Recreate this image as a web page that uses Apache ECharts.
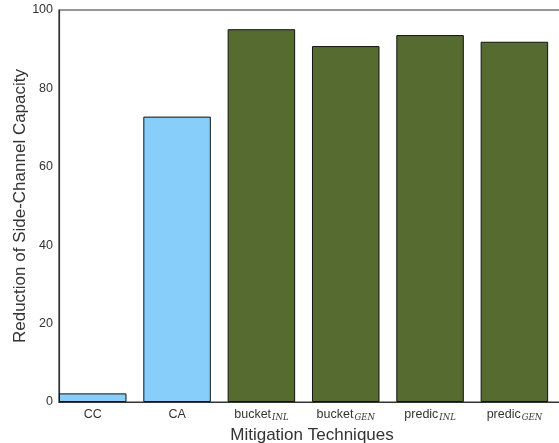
<!DOCTYPE html>
<html>
<head>
<meta charset="utf-8">
<script src="https://cdn.jsdelivr.net/npm/echarts@6/dist/echarts.min.js"></script>
<style>
    html, body { margin: 0; padding: 0; background: #fff; }
    #chart { width: 559px; height: 443px; }
</style>
</head>
<body>
<div id="chart"></div>
<script>
/*缓解技术柱状图*/

var categories = ['CC', 'CA', 'bucket', 'bucket', 'predic', 'predic'];
var subscripts = ['', '', 'INL', 'GEN', 'INL', 'GEN'];
var values = [2.2, 72.8, 95.1, 90.8, 93.6, 91.9];
var barColors = ['#87cefa', '#87cefa', '#556b2f', '#556b2f', '#556b2f', '#556b2f'];
var yTicks = [0, 20, 40, 60, 80, 100];

function drawChart() {
    var chart = echarts.init(document.getElementById('chart'));

    // 柱子左边对齐刻度，中心在 i + 0.4
    var positions = categories.map(function (c, i) { return i + 0.4; });

    var option = {
        animation: false,
        grid: {
            left: 59,
            top: 10,
            bottom: 41,
            right: -6,
            outerBoundsMode: 'none',
            containLabel: false,
            show: true,
            borderColor: '#333',
            borderWidth: 1.2,
            backgroundColor: '#fff'
        },
        xAxis: {
            type: 'value',
            min: 0,
            max: 6,
            name: 'Mitigation Techniques',
            nameLocation: 'middle',
            nameGap: 25,
            nameTextStyle: { fontFamily: 'Liberation Sans', fontSize: 17, color: '#333' },
            axisLine: { show: true, lineStyle: { color: '#333', width: 1.2 } },
            axisTick: { show: false },
            splitLine: { show: false },
            axisLabel: {
                customValues: positions,
                margin: 6,
                formatter: function (v) {
                    var i = Math.round(v - 0.4);
                    if (subscripts[i]) {
                        return '{a|' + categories[i] + '}{s|' + subscripts[i] + '}';
                    }
                    return '{a|' + categories[i] + '}';
                },
                rich: {
                    a: { fontFamily: 'Liberation Sans', fontSize: 12.5, color: '#333' },
                    s: {
                        fontFamily: 'DejaVu Serif', fontSize: 8.5, fontStyle: 'italic',
                        color: '#333', padding: [5, 0, 0, 1]
                    }
                }
            }
        },
        yAxis: {
            type: 'value',
            min: 0,
            max: 100,
            interval: 20,
            name: 'Reduction of Side-Channel Capacity',
            nameLocation: 'middle',
            nameGap: 30,
            nameMoveOverlap: false,
            nameTextStyle: { fontFamily: 'Liberation Sans', fontSize: 17, color: '#333' },
            axisLine: { show: true, lineStyle: { color: '#333', width: 1.2 } },
            axisTick: { show: false },
            splitLine: { show: false },
            axisLabel: {
                fontFamily: 'Liberation Sans',
                fontSize: 12.5,
                color: '#333',
                margin: 6,
                customValues: yTicks
            }
        },
        series: [{
            type: 'bar',
            barWidth: 67.5,
            data: values.map(function (v, i) {
                return {
                    value: [positions[i], v],
                    itemStyle: { color: barColors[i] }
                };
            }),
            itemStyle: { borderColor: '#111', borderWidth: 1 }
        }]
    };

    chart.setOption(option);
}

drawChart();
</script>
</body>
</html>
